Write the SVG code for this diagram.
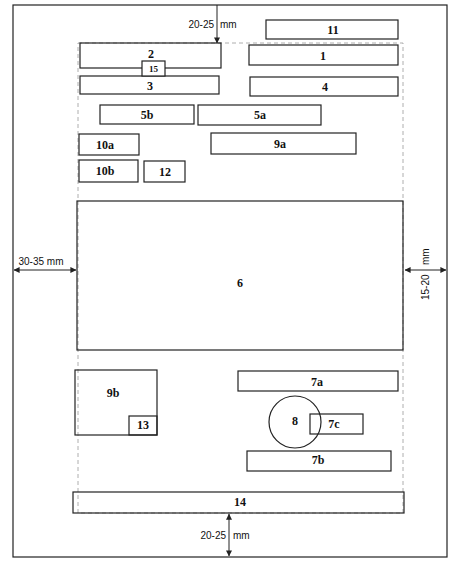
<svg xmlns="http://www.w3.org/2000/svg" width="453" height="562" viewBox="0 0 453 562">
<style>
.b{fill:none;stroke:#222;stroke-width:1.2}
.f{fill:none;stroke:#999;stroke-width:0.8;stroke-dasharray:4 3}
.t{font-family:"Liberation Serif",serif;font-weight:bold;font-size:12px;fill:#111;text-anchor:middle;dominant-baseline:central}
.s{font-size:9px}
.d{font-family:"Liberation Sans",Arial,sans-serif;font-size:10px;fill:#111;dominant-baseline:central}
.a{stroke:#222;stroke-width:1;fill:none}
</style>
<defs>
<marker id="ah" viewBox="0 0 8 8" refX="7.5" refY="4" markerWidth="6" markerHeight="6" orient="auto-start-reverse" markerUnits="userSpaceOnUse">
<path d="M0,0 L8,4 L0,8 z" fill="#222"/>
</marker>
</defs>
<rect width="453" height="562" fill="#fff"/>
<rect x="13" y="5" width="434" height="552" class="b"/>
<rect x="78" y="43" width="325" height="470" class="f"/>
<g id="n2"><rect x="80" y="43" width="141" height="25" class="b"/><text x="151" y="54" class="t">2</text></g>
<g id="n3"><rect x="80" y="76" width="139" height="18" class="b"/><text x="150" y="86" class="t">3</text></g>
<g id="n15"><rect x="142" y="61" width="23" height="15" class="b" style="fill:#fff"/><text x="153.5" y="69" class="t s">15</text></g>
<g id="n11"><rect x="266" y="20" width="132" height="19" class="b"/><text x="333" y="30" class="t">11</text></g>
<g id="n1"><rect x="249" y="45" width="149" height="20" class="b"/><text x="323" y="56" class="t">1</text></g>
<g id="n4"><rect x="250" y="77" width="148" height="19" class="b"/><text x="325" y="87" class="t">4</text></g>
<g id="n5b"><rect x="100" y="105" width="94" height="19" class="b"/><text x="147" y="115" class="t">5b</text></g>
<g id="n5a"><rect x="198" y="105" width="123" height="20" class="b"/><text x="260" y="115" class="t">5a</text></g>
<g id="n10a"><rect x="79" y="134" width="60" height="21" class="b"/><text x="105" y="145" class="t">10a</text></g>
<g id="n9a"><rect x="211" y="133" width="145" height="21" class="b"/><text x="280" y="144" class="t">9a</text></g>
<g id="n10b"><rect x="79" y="160" width="59" height="22" class="b"/><text x="105" y="171" class="t">10b</text></g>
<g id="n12"><rect x="144" y="161" width="41" height="21" class="b"/><text x="165" y="172" class="t">12</text></g>
<g id="n6"><rect x="77" y="201" width="326" height="149" class="b"/><text x="240" y="283" class="t">6</text></g>
<g id="n9b"><rect x="75" y="370" width="82" height="65" class="b"/><text x="113" y="393" class="t">9b</text></g>
<g id="n13"><rect x="129" y="416" width="28" height="19" class="b"/><text x="143" y="425" class="t">13</text></g>
<g id="n7a"><rect x="238" y="371" width="160" height="20" class="b"/><text x="317" y="382" class="t">7a</text></g>
<g id="n8"><circle cx="295" cy="422" r="26" class="b"/><text x="295" y="421" class="t">8</text></g>
<g id="n7c"><rect x="310" y="414" width="53" height="20" class="b"/><text x="334" y="424" class="t">7c</text></g>
<g id="n7b"><rect x="247" y="451" width="144" height="20" class="b"/><text x="318" y="460" class="t">7b</text></g>
<g id="n14"><rect x="73" y="492" width="331" height="21" class="b"/><text x="240" y="502" class="t">14</text></g>
<g id="connectors">
<line x1="217" y1="5" x2="217" y2="43" class="a" marker-end="url(#ah)"/>
<line x1="14" y1="270" x2="76" y2="270" class="a" marker-start="url(#ah)" marker-end="url(#ah)"/>
<line x1="405" y1="270" x2="446" y2="270" class="a" marker-start="url(#ah)" marker-end="url(#ah)"/>
<line x1="229" y1="514" x2="229" y2="556" class="a" marker-start="url(#ah)" marker-end="url(#ah)"/>
</g>
<text x="214" y="24" class="d" text-anchor="end">20-25</text>
<text x="220" y="24" class="d">mm</text>
<text x="41" y="261" class="d" text-anchor="middle">30-35 mm</text>
<text transform="translate(425,300) rotate(-90)" class="d">15-20</text>
<text transform="translate(425,265) rotate(-90)" class="d">mm</text>
<text x="226" y="535" class="d" text-anchor="end">20-25</text>
<text x="233" y="535" class="d">mm</text>
</svg>
